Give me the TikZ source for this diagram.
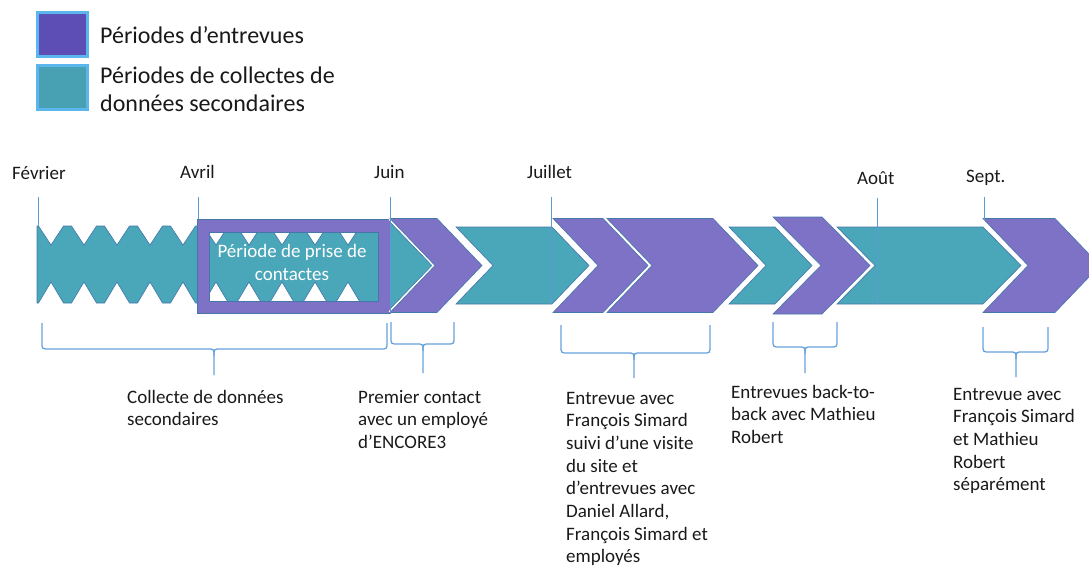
\documentclass[tikz,border=0pt]{standalone}
\usepackage{fontspec}
\setmainfont{Carlito}
\definecolor{purpleC}{RGB}{125,114,197}
\definecolor{tealC}{RGB}{74,166,185}
\definecolor{legPurple}{RGB}{93,78,181}
\definecolor{legTeal}{RGB}{72,161,178}
\definecolor{legBorder}{RGB}{92,182,238}
\definecolor{edgeC}{RGB}{70,118,170}
\definecolor{tickC}{RGB}{91,155,213}
\definecolor{braceC}{RGB}{104,162,222}
\definecolor{txtC}{RGB}{25,25,25}

% chevron: style, left x, right x, centre y, half height, point depth
\newcommand\chevron[6]{%
  \draw[halo] (#2,#4-#5) -- (#2+#6,#4) -- (#2,#4+#5);
  \filldraw[#1] (#2,#4-#5) -- (#3,#4-#5) -- (#3+#6,#4) -- (#3,#4+#5)
    -- (#2,#4+#5) -- (#2+#6,#4) -- cycle;}
% downward brace: left x, right x, tip x, top y, bar y, tip y
\newcommand\timebrace[6]{%
  \draw[bracket] (#1,#4) -- (#1,#5-7) .. controls (#1,#5) .. (#1+7,#5)
    -- (#3-7,#5) .. controls (#3,#5) .. (#3,#5+7) -- (#3,#6);
  \draw[bracket] (#2,#4) -- (#2,#5-7) .. controls (#2,#5) .. (#2-7,#5)
    -- (#3+7,#5) .. controls (#3,#5) .. (#3,#5+7);}

\begin{document}
\begin{tikzpicture}[x=1pt,y=-1pt,
  tealfill/.style={fill=tealC, draw=edgeC, line width=0.6pt},
  purplefill/.style={fill=purpleC, draw=edgeC, line width=0.6pt},
  halo/.style={draw=white, line width=3.5pt},
  tickline/.style={draw=tickC, line width=0.9pt},
  bracket/.style={draw=braceC, line width=1.3pt},
  lbl/.style={anchor=base west, inner sep=0pt, text=txtC,
    font=\fontsize{19}{22.7}\selectfont},
  legendtxt/.style={anchor=base west, inner sep=0pt, text=txtC,
    font=\fontsize{24}{27.7}\selectfont},
  legendbox/.style={draw=legBorder, line width=3pt}]
\useasboundingbox (0,0) rectangle (1089,567);
\begin{scope}
\clip (0,0) rectangle (1089,567);

% legend
\filldraw[legendbox, fill=legPurple] (37,13) rectangle (87,57);
\filldraw[legendbox, fill=legTeal] (37,66) rectangle (87,110);
\node[legendtxt] (legA) at (100,43.5) {Périodes d’entrevues};
\node[legendtxt] (legB) at (100,84) {\begin{tabular}[t]{@{}l@{}}Périodes de collectes de\\données secondaires\end{tabular}};

% teal piece hidden behind the contact frame
\filldraw[tealfill] (378,220) -- (388,220) -- (432,265.5) -- (388,311) -- (378,311) -- cycle;

% zigzag band of secondary data collection
\filldraw[tealfill] (37,226)
  \foreach \k in {0,1,...,9} { -- ({51+33*\k-12.5},226) -- ({51+33*\k},245) -- ({51+33*\k+12.5},226) }
  -- (385,226) -- (385,303)
  \foreach \k in {9,8,...,0} { -- ({51+33*\k+12.5},303) -- ({51+33*\k},282) -- ({51+33*\k-12.5},303) }
  -- (37,303) -- cycle;

% contact period frame
\path[fill=purpleC, even odd rule, draw=edgeC, line width=0.6pt]
  (197,219) rectangle (390,313) (209,232) rectangle (378,301);
\node[inner sep=0pt, anchor=base, text=white, font=\fontsize{19}{23}\selectfont] (contact) at (292,257)
  {\begin{tabular}[t]{@{}c@{}}Période de prise de\\contactes\end{tabular}};

% chevrons
\chevron{purplefill}{390}{437}{265.5}{47}{45}
\chevron{tealfill}{456}{552}{265.5}{38.5}{37}
\chevron{purplefill}{553}{603}{265.5}{47}{45}
\chevron{purplefill}{607}{713}{265.5}{47}{45}
\chevron{tealfill}{729}{775}{265.5}{38.5}{37}
\chevron{purplefill}{773}{822}{265.5}{48.5}{48}
\chevron{tealfill}{837}{983}{265.5}{38.5}{38}
\chevron{purplefill}{983}{1055}{265.5}{47}{45}

% month ticks
\draw[tickline] (38,197) -- (38,226);
\draw[tickline] (198,197) -- (198,219);
\draw[tickline] (390,197) -- (390,313);
\draw[tickline] (551,197) -- (551,304);
\draw[tickline] (877,198) -- (877,304);
\draw[tickline] (984,197) -- (984,220);

% month names
\node[lbl] (feb) at (12,179) {Février};
\node[lbl] (apr) at (180,178) {Avril};
\node[lbl] (jun) at (374,178) {Juin};
\node[lbl] (jul) at (527,178) {Juillet};
\node[lbl] (aug) at (857,184) {Août};
\node[lbl] (sep) at (966,182) {Sept.};

% braces
\timebrace{42}{387}{214}{323}{349}{375}
\timebrace{391}{454}{423}{322}{344}{373}
\timebrace{561}{710}{634}{325}{353}{378}
\timebrace{773}{837}{805}{322}{347}{373}
\timebrace{983}{1048}{1016}{327}{352}{377}

% descriptions
\node[lbl] (d1) at (127,403) {\begin{tabular}[t]{@{}l@{}}Collecte de données\\secondaires\end{tabular}};
\node[lbl] (d2) at (358,403) {\begin{tabular}[t]{@{}l@{}}Premier contact\\avec un employé\\d’ENCORE3\end{tabular}};
\node[lbl] (d3) at (566,404) {\begin{tabular}[t]{@{}l@{}}Entrevue avec\\François Simard\\suivi d’une visite\\du site et\\d’entrevues avec\\Daniel Allard,\\François Simard et\\employés\end{tabular}};
\node[lbl] (d4) at (731,398) {\begin{tabular}[t]{@{}l@{}}Entrevues back-to-\\back avec Mathieu\\Robert\end{tabular}};
\node[lbl] (d5) at (953,400) {\begin{tabular}[t]{@{}l@{}}Entrevue avec\\François Simard\\et Mathieu\\Robert\\séparément\end{tabular}};
\end{scope}
\end{tikzpicture}
\end{document}
